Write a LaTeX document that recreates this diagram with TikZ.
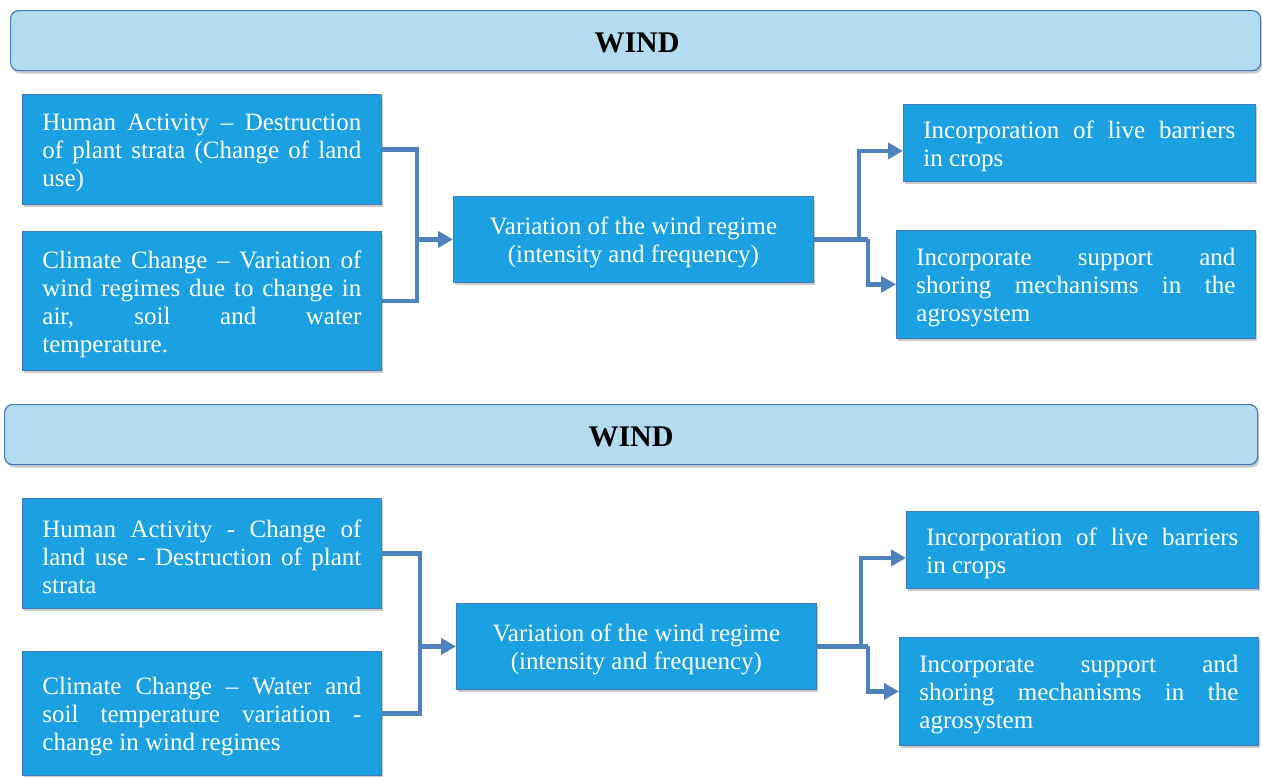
\documentclass[tikz,border=0pt]{standalone}
\usepackage{fontspec}
\setmainfont{Liberation Serif}
\usetikzlibrary{arrows.meta,shadows}
\definecolor{boxfill}{HTML}{1BA0E1}
\definecolor{boxline}{HTML}{4479BA}
\definecolor{titlefill}{HTML}{B4DCF1}
\definecolor{linkblue}{HTML}{4F81BD}
\tikzset{
  soft/.style={drop shadow={shadow xshift=1.5pt,shadow yshift=-3pt,opacity=0.35,fill=black!60}},
  banner/.style={soft,draw=boxline,line width=1.2pt,fill=titlefill,rounded corners=8pt,
    anchor=north west,minimum height=60pt,inner sep=0pt},
  titletext/.style={font=\fontsize{30}{34}\selectfont\bfseries},
  causebox/.style={soft,draw=boxline,line width=0.8pt,fill=boxfill,text=white,
    anchor=north west,inner xsep=20pt,inner ysep=0pt,text width=319pt,align=justify,
    font=\fontsize{25}{28}\selectfont,execute at begin node={\rule{0pt}{24pt}}},
  midbox/.style={soft,draw=boxline,line width=0.8pt,fill=boxfill,text=white,
    anchor=north west,minimum width=360pt,minimum height=86pt,inner sep=0pt,align=center,
    font=\fontsize{25}{28}\selectfont,text depth=0pt},
  link/.style={draw=linkblue,line width=4.5pt},
  linkarrow/.style={link,-{Triangle[length=15pt,width=16pt]}},
}
\begin{document}
\begin{tikzpicture}[x=1pt,y=-1pt]
\useasboundingbox (0,0) rectangle (1262,777);

% ---------- upper panel ----------
\node[banner,minimum width=1250pt] (t1) at (10,10) {};
\node[titletext] (t1lab) at (637,43) {WIND};

\node[causebox,minimum height=110pt] (a1) at (22,94)
  {Human Activity – Destruction\linebreak of plant strata (Change of land\linebreak use)};
\node[causebox,minimum height=139pt] (a2) at (22,231)
  {Climate Change – Variation of\linebreak wind regimes due to change in\linebreak air, soil and water\linebreak temperature.};
\node[midbox] (m1) at (453,196) {Variation of the wind regime\\(intensity and frequency)};
\node[causebox,text width=312pt,minimum height=77pt] (r1) at (903,104)
  {Incorporation of live barriers\linebreak in crops};
\node[causebox,minimum height=108pt] (r2) at (896,230)
  {Incorporate support and\linebreak shoring mechanisms in the\linebreak agrosystem};

\coordinate (jl1) at ([xshift=-36pt]m1.west);
\coordinate (jr1) at ([xshift=45pt]m1.east);
\coordinate (jr2) at ([xshift=54pt]m1.east);
\draw[link] (a1.east) -| (jl1);
\draw[link] (a2.east) -| (jl1);
\draw[linkarrow] (jl1) -- (m1.west);
\draw[link] (m1.east) -- (jr2);
\draw[linkarrow] (jr1) |- ([yshift=-8pt]r1.west);
\draw[linkarrow] (jr2) |- (r2.west);

% ---------- lower panel ----------
\node[banner,minimum width=1253pt] (t2) at (4,404) {};
\node[titletext] (t2lab) at (631,437) {WIND};

\node[causebox,minimum height=110pt] (b1) at (22,498)
  {Human Activity - Change of\linebreak land use - Destruction of plant\linebreak strata};
\node[causebox,minimum height=124pt] (b2) at (22,651)
  {Climate Change – Water and\linebreak soil temperature variation -\linebreak change in wind regimes};
\node[midbox] (m2) at (456,603) {Variation of the wind regime\\(intensity and frequency)};
\node[causebox,text width=312pt,minimum height=77pt] (s1) at (906,511)
  {Incorporation of live barriers\linebreak in crops};
\node[causebox,minimum height=108pt] (s2) at (899,637)
  {Incorporate support and\linebreak shoring mechanisms in the\linebreak agrosystem};

\coordinate (jl2) at ([xshift=-36pt]m2.west);
\coordinate (js1) at ([xshift=44pt]m2.east);
\coordinate (js2) at ([xshift=51pt]m2.east);
\draw[link] (b1.east) -| (jl2);
\draw[link] (b2.east) -| (jl2);
\draw[linkarrow] (jl2) -- (m2.west);
\draw[link] (m2.east) -- (js2);
\draw[linkarrow] (js1) |- ([yshift=-8pt]s1.west);
\draw[linkarrow] (js2) |- (s2.west);
\end{tikzpicture}
\end{document}
